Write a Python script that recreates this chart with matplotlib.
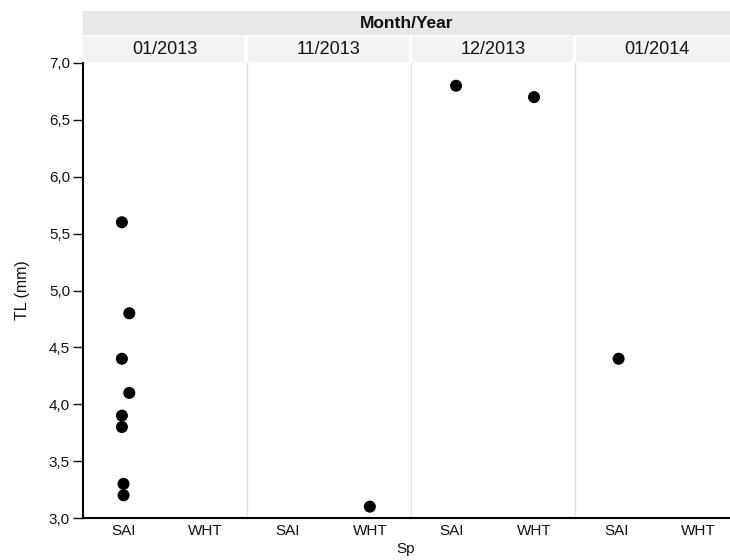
import matplotlib
matplotlib.use("Agg")
import matplotlib.pyplot as plt
from matplotlib.patches import Rectangle
from matplotlib.ticker import FuncFormatter

plt.rcParams['font.family'] = ['Liberation Sans', 'DejaVu Sans']

# Facets and categories
months = ["01/2013", "11/2013", "12/2013", "01/2014"]
species = ["SAI", "WHT"]

# Observations: month, species, total length (mm)
obs_month = ["01/2013"] * 8 + ["11/2013", "12/2013", "12/2013", "01/2014"]
obs_sp = ["SAI"] * 8 + ["WHT", "SAI", "WHT", "SAI"]
obs_tl = [5.6, 4.8, 4.4, 4.1, 3.9, 3.8, 3.3, 3.2, 3.1, 6.8, 6.7, 4.4]
# horizontal jitter within a category band
obs_jitter = [-0.02, 0.07, -0.02, 0.07, -0.02, -0.02, 0.0, 0.0, 0.0, 0.05, 0.0, 0.03]

W, H = 730, 560
fig = plt.figure(figsize=(W / 100, H / 100), dpi=100)

def fx(px):
    return px / W

def fy(py):
    return 1 - py / H

left_px = 82.5
panel_w = 164.2
top_px, bottom_px = 63, 518
txt = "#111111"

# Header bands
fig.patches.append(Rectangle((fx(left_px), fy(35)), fx(W - left_px), (35 - 11) / H,
                             transform=fig.transFigure, facecolor="#e8e8e8",
                             edgecolor="none", zorder=0))
fig.text(fx(left_px + (W - left_px) / 2), fy(23), "Month/Year", ha="center", va="center",
         fontsize=12.5, fontweight="bold", color=txt)

for i, m in enumerate(months):
    x0 = left_px + i * panel_w
    ax = fig.add_axes([fx(x0), fy(bottom_px), fx(panel_w), (bottom_px - top_px) / H])
    # strip label
    fig.patches.append(Rectangle((fx(x0 + (1 if i else 0)), fy(62)), fx(panel_w - 3), (62 - 36) / H,
                                 transform=fig.transFigure, facecolor="#f3f3f3",
                                 edgecolor="none", zorder=0))
    fig.text(fx(x0 + panel_w / 2), fy(49.5), m, ha="center", va="center",
             fontsize=13, color=txt)

    xs, ys = [], []
    for mo, sp, tl, j in zip(obs_month, obs_sp, obs_tl, obs_jitter):
        if mo == m:
            xs.append(species.index(sp) + j)
            ys.append(tl)
    ax.scatter(xs, ys, s=75, color="black", edgecolors="none", zorder=3, clip_on=False)

    ax.set_xlim(-0.5, 1.5)
    ax.set_ylim(3.0, 7.0)
    ax.set_xticks(range(len(species)))
    ax.set_xticklabels(species, fontsize=11)
    ax.tick_params(axis="x", length=0, pad=4, colors=txt)
    ax.set_facecolor("none")
    for s in ("top", "right"):
        ax.spines[s].set_visible(False)
    ax.spines["bottom"].set_color("black")
    ax.spines["bottom"].set_linewidth(1.5)
    if i == 0:
        ax.spines["left"].set_color("black")
        ax.spines["left"].set_linewidth(1.5)
        ax.set_yticks([3.0, 3.5, 4.0, 4.5, 5.0, 5.5, 6.0, 6.5, 7.0])
        ax.yaxis.set_major_formatter(FuncFormatter(lambda v, p: f"{v:.1f}".replace(".", ",")))
        ax.tick_params(axis="y", length=7, width=1, labelsize=11, pad=2, colors=txt)
    else:
        ax.spines["left"].set_color("#e3e3e3")
        ax.spines["left"].set_linewidth(1)
        ax.set_yticks([])

fig.text(fx(23), fy(290), "TL (mm)", rotation=90, ha="center", va="center",
         fontsize=11.5, color=txt)
fig.text(fx(406), fy(549), "Sp", ha="center", va="center", fontsize=11, color=txt)

fig.savefig("out.png", dpi=100)
